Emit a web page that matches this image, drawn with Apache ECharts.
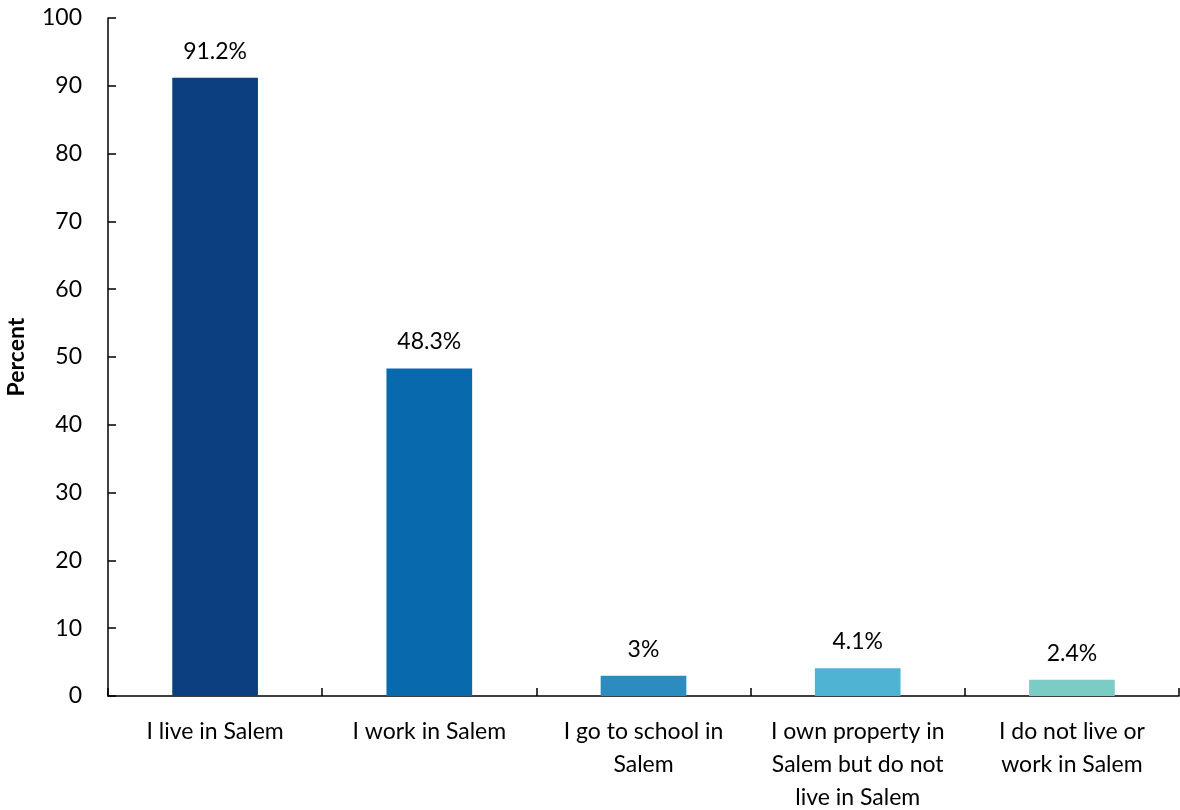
<!DOCTYPE html>
<html>
<head>
<meta charset="utf-8">
<script src="https://cdn.jsdelivr.net/npm/echarts@6/dist/echarts.min.js"></script>
<style>
    html, body { margin: 0; padding: 0; background: #fff; }
    #chart { width: 1180px; height: 810px; }
</style>
</head>
<body>
<div id="chart"></div>
<script>
// categories and values
const categories = [
    'I live in Salem',
    'I work in Salem',
    'I go to school in\nSalem',
    'I own property in\nSalem but do not\nlive in Salem',
    'I do not live or\nwork in Salem'
]
const percents = [91.2, 48.3, 3, 4.1, 2.4]
const barColors = ['#0b3f7f', '#086aad', '#2c8cbf', '#4fb3d3', '#7bccc4']
const yTicks = { min: 0, max: 100, interval: 10 }

const chart = echarts.init(document.getElementById('chart'))
const font = 'Lato, "Open Sans", sans-serif'

const option = {
    animation: false,
    textStyle: { fontFamily: font },
    grid: { left: 108, right: 1, top: 18, bottom: 114, outerBoundsMode: 'none', containLabel: false },
    xAxis: {
        type: 'category',
        data: categories,
        axisLine: { lineStyle: { color: '#000', width: 1.5 } },
        axisTick: { show: true, inside: true, length: 8, lineStyle: { color: '#000', width: 1.5 } },
        axisLabel: {
            color: '#000',
            fontSize: 23,
            fontFamily: font,
            margin: 19,
            lineHeight: 33,
            interval: 0
        }
    },
    yAxis: {
        type: 'value',
        min: yTicks.min,
        max: yTicks.max,
        interval: yTicks.interval,
        name: 'Percent',
        nameLocation: 'middle',
        nameGap: 80,
        nameTextStyle: { color: '#000', fontSize: 23, fontWeight: 'bold', fontFamily: font },
        axisLine: { show: true, lineStyle: { color: '#000', width: 1.5 } },
        axisTick: { show: true, inside: true, length: 8, lineStyle: { color: '#000', width: 1.5 } },
        axisLabel: { color: '#000', fontSize: 23, fontFamily: font, margin: 26 },
        splitLine: { show: false }
    },
    series: [{
        type: 'bar',
        barWidth: '40%',
        data: percents.map((v, i) => ({ value: v, itemStyle: { color: barColors[i] } })),
        label: {
            show: true,
            position: 'top',
            distance: 15,
            color: '#000',
            fontSize: 23,
            fontFamily: font,
            formatter: p => p.value + '%'
        }
    }]
}
chart.setOption(option)
</script>
</body>
</html>
